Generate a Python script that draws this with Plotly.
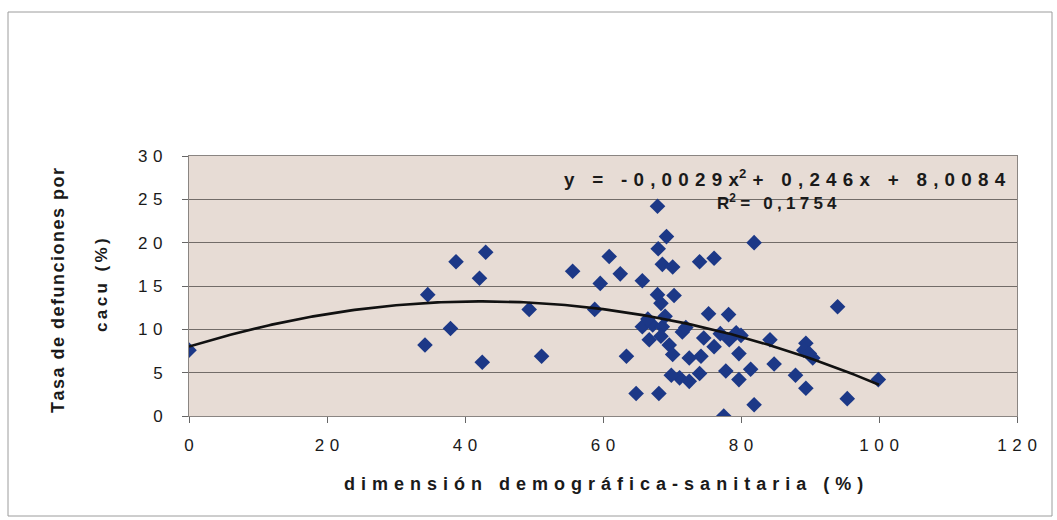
import numpy as np
import plotly.graph_objects as go

# ---- data ----
x_vals = [0.0, 34.2, 34.6, 37.9, 38.7, 43.0, 42.1, 42.5, 49.3, 51.1,
          55.6, 58.8, 59.6, 60.9, 62.5, 63.4, 64.8, 65.7, 67.9, 69.2,
          68.0, 68.6, 70.1, 74.0, 76.1, 81.9, 67.9, 70.3, 68.4, 75.3,
          78.2, 65.7, 67.2, 68.6, 66.7, 68.4, 69.6, 70.1, 71.5, 72.5,
          74.2, 74.6, 76.1, 78.3, 79.3, 79.7, 84.2, 84.8, 77.8, 81.4,
          79.7, 71.1, 72.5, 74.0, 69.9, 68.1, 81.9, 77.5, 94.0, 89.4,
          89.1, 90.4, 89.9, 87.9, 89.4, 95.4, 99.9, 66.5, 69.0, 72.0,
          77.0, 80.0]
y_vals = [7.6, 8.2, 14.0, 10.1, 17.8, 18.9, 15.9, 6.2, 12.3, 6.9,
          16.7, 12.3, 15.3, 18.4, 16.4, 6.9, 2.6, 15.6, 24.2, 20.7,
          19.3, 17.5, 17.2, 17.8, 18.2, 20.0, 14.0, 13.9, 13.0, 11.8,
          11.7, 10.3, 10.5, 10.3, 8.8, 9.2, 8.2, 7.1, 9.7, 6.7,
          6.9, 9.0, 8.0, 8.8, 9.6, 7.2, 8.8, 6.0, 5.2, 5.4,
          4.2, 4.4, 4.0, 4.9, 4.7, 2.6, 1.3, 0.0, 12.6, 8.4,
          7.6, 6.7, 7.2, 4.7, 3.2, 2.0, 4.2, 11.2, 11.5, 10.2,
          9.5, 9.3]

x_ticks = [0, 20, 40, 60, 80, 100, 120]
y_ticks = [0, 5, 10, 15, 20, 25, 30]
x_tick_labels = ["0", "20", "40", "60", "80", "100", "120"]
y_tick_labels = ["0", "5", "10", "15", "20", "25", "30"]

fit_coef = [-0.0029, 0.246, 8.0084]   # quadratic trend line (Excel)
fit_range = [0, 100]
r_squared_label = "0,1754"

x_title = "dimensión demográfica-sanitaria (%)"
y_title_1 = "Tasa de defunciones por"
y_title_2 = "cacu (%)"

# ---- layout constants ----
W, H = 1057, 520
L, R, T, B = 189, 40, 156, 104
PW, PH = W - L - R, H - T - B

def px_x(px):
    return (px - L) / PW

def px_y(py):
    return (H - B - py) / PH

SP = "\u2005"   # four-per-em space
SP3 = "\u2004"  # three-per-em space
HAIR = "\u200A"

def spaced(s, sep=SP):
    return sep.join(s)

fit_x = np.linspace(fit_range[0], fit_range[1], 201)
fit_y = np.polyval(fit_coef, fit_x)

fig = go.Figure()
fig.add_trace(go.Scatter(
    x=x_vals, y=y_vals, mode="markers",
    marker=dict(symbol="diamond", size=12, color="#1C3887", line=dict(width=0)),
    showlegend=False, hoverinfo="skip"))
fig.add_trace(go.Scatter(
    x=fit_x, y=fit_y, mode="lines",
    line=dict(color="#111111", width=2.6),
    showlegend=False, hoverinfo="skip"))

FAM = "Liberation Sans, Arial, sans-serif"
tickfont = dict(family=FAM, size=17, color="#1a1a1a")

fig.update_layout(
    width=W, height=H, autosize=False,
    margin=dict(l=L, r=R, t=T, b=B, pad=0),
    paper_bgcolor="white",
    plot_bgcolor="#E7DCD5",
    xaxis=dict(range=[0, 120], tickvals=x_ticks,
               ticktext=[spaced(t, SP3) for t in x_tick_labels],
               ticks="outside", ticklen=6, tickcolor="#666", tickwidth=1,
               showline=True, linecolor="#8a8582", linewidth=1, mirror=True,
               showgrid=False, zeroline=False, tickfont=tickfont,
               ticklabelstandoff=8, fixedrange=True),
    yaxis=dict(range=[0, 30], tickvals=y_ticks,
               ticktext=[spaced(t, SP3) for t in y_tick_labels],
               ticks="outside", ticklen=6, tickcolor="#666", tickwidth=1,
               showline=True, linecolor="#8a8582", linewidth=1, mirror=True,
               showgrid=True, gridcolor="#726c68", gridwidth=1,
               zeroline=False, tickfont=tickfont, ticklabelstandoff=16,
               fixedrange=True),
)

bold17 = dict(family=FAM, size=17, color="#1a1a1a", weight="bold")
bold18 = dict(family=FAM, size=18, color="#1a1a1a", weight="bold")
bold_eq = dict(family=FAM, size=18.8, color="#1a1a1a", weight="bold")

annotations = [
    dict(text=spaced(x_title, SP3), x=0.5, y=px_y(484), xref="paper", yref="paper",
         showarrow=False, font=bold18, xanchor="center", yanchor="middle"),
    dict(text=spaced(y_title_1, HAIR), x=px_x(58), y=px_y(291), xref="paper", yref="paper",
         showarrow=False, font=bold18, textangle=-90, xanchor="center", yanchor="middle"),
    dict(text=spaced(y_title_2, "\u2009"), x=px_x(101), y=px_y(285), xref="paper", yref="paper",
         showarrow=False, font=bold17, textangle=-90, xanchor="center", yanchor="middle"),
]

c2, c1, c0 = fit_coef
eq_text = (spaced("y = " + f"{c2:.4f}".replace(".", ",") + "x", SP3) + "<sup>2</sup>" + SP3
           + spaced("+ " + f"{c1:.3f}".replace(".", ",") + "x + " + f"{c0:.4f}".replace(".", ","), SP3))
r2_text = "R<sup>2</sup>" + SP + spaced("= " + r_squared_label)
annotations.append(dict(text=eq_text, x=px_x(1008), y=px_y(178), xref="paper", yref="paper",
                        showarrow=False, font=bold_eq, xanchor="right", yanchor="middle"))
annotations.append(dict(text=r2_text, x=px_x(777), y=px_y(202), xref="paper", yref="paper",
                        showarrow=False, font=bold17, xanchor="center", yanchor="middle"))
fig.update_layout(annotations=annotations)

fig.add_shape(type="rect", xref="paper", yref="paper",
              x0=px_x(8), x1=px_x(1052), y0=px_y(516), y1=px_y(12),
              line=dict(color="#9c9c9c", width=1), fillcolor="rgba(0,0,0,0)", layer="below")

fig.write_html("out.html", config={"displayModeBar": False})
